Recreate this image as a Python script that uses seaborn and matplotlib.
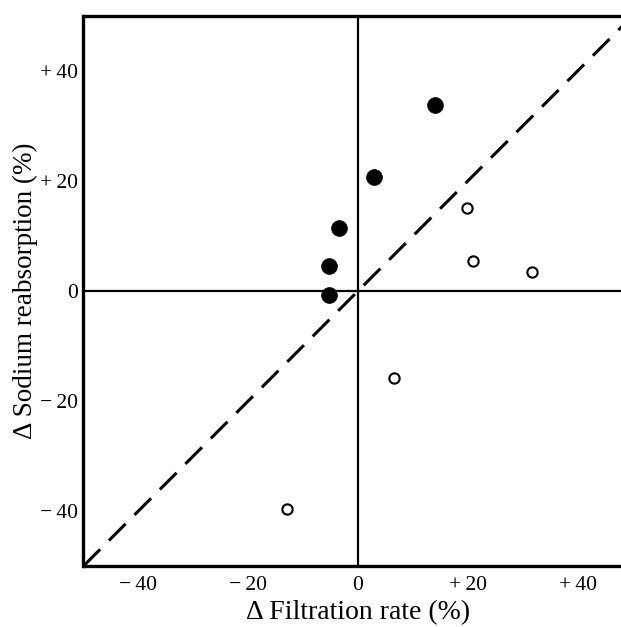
import matplotlib
matplotlib.use("Agg")
import matplotlib.pyplot as plt
import seaborn as sns
import pandas as pd

# Data
filled_x = [14.0, 2.9, -3.4, -5.3, -5.2]
filled_y = [33.9, 20.8, 11.5, 4.5, -0.7]
open_x = [19.9, 20.9, 31.7, 6.6, -12.9]
open_y = [15.1, 5.5, 3.5, -15.9, -39.7]
major_ticks = [-40, -20, 0, 20, 40]
major_labels = ["\u2212\u200940", "\u2212\u200920", "0", "+\u200920", "+\u200940"]
minor_ticks = [-30, -10, 10, 30]

sns.set_theme(style="white")
plt.rcParams['font.family'] = ['Liberation Serif', 'DejaVu Serif']

fig = plt.figure(figsize=(6.21, 6.27), dpi=100)
ax = fig.add_axes([83.5 / 621, 61 / 627, 549 / 621, 550 / 627])

df_f = pd.DataFrame({"x": filled_x, "y": filled_y})
df_o = pd.DataFrame({"x": open_x, "y": open_y})

# identity line and axes lines
ax.plot([-50, 50], [-50, 50], color="black", lw=2.2, dashes=(7.7, 4.1), zorder=1)
ax.axhline(0, color="black", lw=1.6, zorder=1)
ax.axvline(0, color="black", lw=1.6, zorder=1)

sns.scatterplot(data=df_f, x="x", y="y", ax=ax, color="black", s=130,
                edgecolor="black", linewidth=0.5, zorder=3)
sns.scatterplot(data=df_o, x="x", y="y", ax=ax, facecolor="white", s=55,
                edgecolor="black", linewidth=1.5, zorder=3)

ax.set_xlim(-50, 50)
ax.set_ylim(-50, 50)
ax.set_xticks(major_ticks)
ax.set_xticklabels(major_labels)
ax.set_yticks(major_ticks)
ax.set_yticklabels(major_labels)
ax.set_xticks(minor_ticks, minor=True)
ax.set_yticks(minor_ticks, minor=True)
for which in ("major", "minor"):
    ax.tick_params(axis="both", which=which, direction="in", length=8,
                   width=1.6, color="black", labelsize=15.5, labelcolor="black")
ax.tick_params(axis="x", which="major", pad=7)
ax.tick_params(axis="y", which="major", pad=4.3)

for side in ("left", "bottom", "top", "right"):
    ax.spines[side].set_color("black")
    ax.spines[side].set_linewidth(2.4)

ax.set_xlabel("\u0394 Filtration rate (%)", fontsize=20, labelpad=4, color="black")
ax.set_ylabel("\u0394 Sodium reabsorption (%)", fontsize=19.5, color="black",
              va="center")
ax.yaxis.set_label_coords((25 - 83.5) / 549, 0.5)

fig.savefig("out.png", dpi=100)
